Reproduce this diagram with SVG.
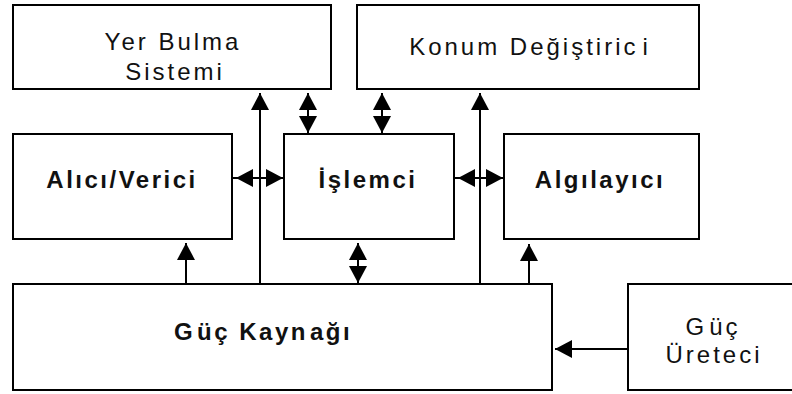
<svg xmlns="http://www.w3.org/2000/svg" width="792" height="394" viewBox="0 0 792 394">
<style>
.box{fill:#fff;stroke:#000;stroke-width:2}
.t{font-family:"Liberation Sans",Arial,sans-serif;font-size:24px;letter-spacing:3px;fill:#111;text-anchor:middle}
.b{font-weight:bold;letter-spacing:2.5px}
.c{stroke:#000;stroke-width:2;fill:none}
</style>
<defs>
<marker id="ah" viewBox="0 0 17 20" refX="17" refY="10" markerWidth="17" markerHeight="20" markerUnits="userSpaceOnUse" orient="auto-start-reverse">
<path d="M0,1 L17,10 L0,19 z" fill="#000"/>
</marker>
</defs>
<rect width="792" height="394" fill="#fff"/>
<g id="yer-bulma">
<rect class="box" x="13" y="5" width="318" height="84"/>
<text class="t" x="173" y="50">Yer Bulma</text>
<text class="t" x="175" y="80">Sistemi</text>
</g>
<g id="konum">
<rect class="box" x="357" y="5" width="342" height="84"/>
<text class="t" x="530" y="55">Konum Değiştiric<tspan dx="4">i</tspan></text>
</g>
<g id="alici-verici">
<rect class="box" x="13" y="134" width="219" height="105"/>
<text class="t b" x="122" y="188">Alıcı/Verici</text>
</g>
<g id="islemci">
<rect class="box" x="284" y="134" width="170" height="105"/>
<text class="t b" x="368" y="188">İşlemci</text>
</g>
<g id="algilayici">
<rect class="box" x="504" y="134" width="195" height="105"/>
<text class="t b" x="600" y="188">Algılayıcı</text>
</g>
<g id="guc-kaynagi">
<rect class="box" x="13" y="284" width="539" height="106"/>
<text class="t b" x="263" y="340">G<tspan dx="2">üç Kayn</tspan><tspan dx="2">ağı</tspan></text>
</g>
<g id="guc-ureteci">
<rect class="box" x="628" y="284" width="172" height="106"/>
<text class="t" x="713" y="335">G<tspan dx="2">üç</tspan></text>
<text class="t" x="714" y="363">Üreteci</text>
</g>
<g id="connectors">
<line class="c" x1="260" y1="284" x2="260" y2="93" marker-end="url(#ah)"/>
<line class="c" x1="480" y1="284" x2="480" y2="93" marker-end="url(#ah)"/>
<line class="c" x1="308" y1="93" x2="308" y2="133" marker-start="url(#ah)" marker-end="url(#ah)"/>
<line class="c" x1="382" y1="93" x2="382" y2="133" marker-start="url(#ah)" marker-end="url(#ah)"/>
<line class="c" x1="232" y1="178" x2="284" y2="178"/>
<line class="c" x1="236" y1="178" x2="283" y2="178" marker-start="url(#ah)" marker-end="url(#ah)"/>
<line class="c" x1="454" y1="178" x2="504" y2="178"/>
<line class="c" x1="458" y1="178" x2="503" y2="178" marker-start="url(#ah)" marker-end="url(#ah)"/>
<line class="c" x1="358" y1="243" x2="358" y2="283" marker-start="url(#ah)" marker-end="url(#ah)"/>
<line class="c" x1="186" y1="284" x2="186" y2="243" marker-end="url(#ah)"/>
<line class="c" x1="529" y1="284" x2="529" y2="244" marker-end="url(#ah)"/>
<line class="c" x1="628" y1="349" x2="555" y2="349" marker-end="url(#ah)"/>
</g>
</svg>
